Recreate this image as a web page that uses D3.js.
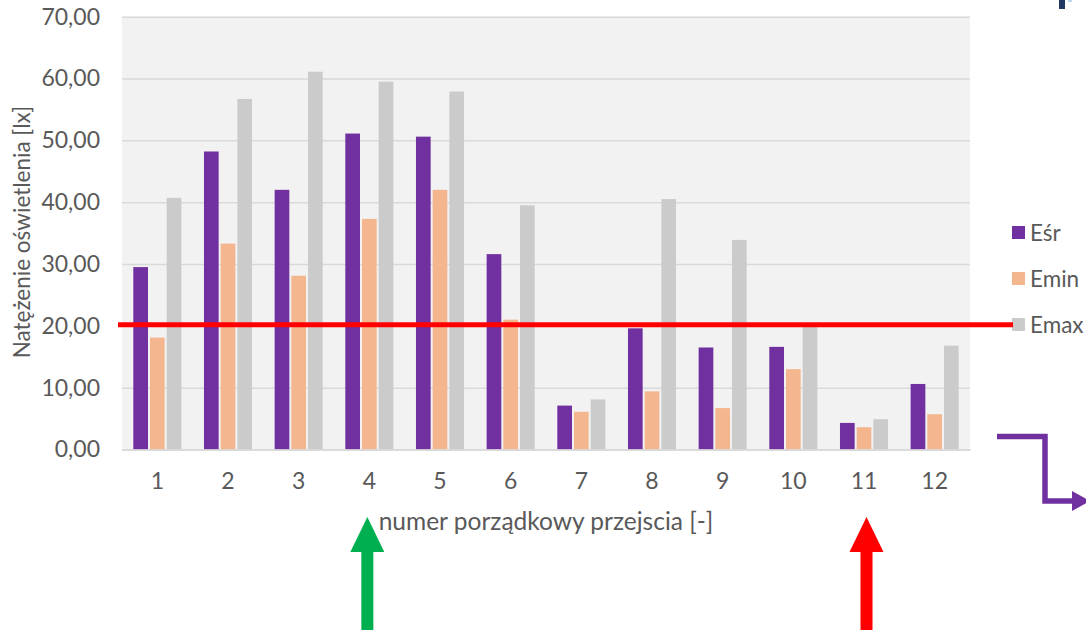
<!DOCTYPE html>
<html>
<head>
<meta charset="utf-8">
<script src="https://cdn.jsdelivr.net/npm/d3@7"></script>
<style>
  html, body { margin: 0; padding: 0; background: #ffffff; }
  svg { display: block; font-family: Lato, "Open Sans", sans-serif; }
</style>
</head>
<body>
<svg id="chart" width="1086" height="630"></svg>
<script>
// Illuminance per passage (lx)
const categories = ["1", "2", "3", "4", "5", "6", "7", "8", "9", "10", "11", "12"];
const seriesNames = ["Eśr", "Emin", "Emax"];
const eSr  = [29.5, 48.2, 42.0, 51.1, 50.6, 31.6, 7.1, 19.6, 16.5, 16.6, 4.3, 10.6];
const eMin = [18.1, 33.3, 28.1, 37.3, 42.0, 21.0, 6.1, 9.4, 6.7, 13.0, 3.6, 5.7];
const eMax = [40.7, 56.7, 61.1, 59.5, 57.9, 39.5, 8.1, 40.5, 33.9, 20.0, 4.9, 16.8];
const yTicks = [0, 10, 20, 30, 40, 50, 60, 70];
const normLevel = 20;

const seriesValues = [eSr, eMin, eMax];
const colors = ["#7030a0", "#f4b68f", "#cbcbcb"];
const textColor = "#595959";

const svg = d3.select("#chart");
const plot = { left: 122, right: 970, top: 16.7, bottom: 449.5 };

const x = d3.scaleBand()
  .domain(categories)
  .range([plot.left, plot.right])
  .paddingInner(0.32)
  .paddingOuter(0.16);

const xs = d3.scaleBand()
  .domain(seriesNames)
  .range([0, x.bandwidth()])
  .paddingInner(0.12);

const y = d3.scaleLinear()
  .domain([0, 70])
  .range([plot.bottom, plot.top]);

const fmt = v => d3.format(".2f")(v).replace(".", ",");

// plot background
svg.append("rect")
  .attr("x", plot.left).attr("y", plot.top)
  .attr("width", plot.right - plot.left)
  .attr("height", plot.bottom - plot.top)
  .attr("fill", "#f2f2f2");

// value axis with horizontal gridlines
const yAxis = d3.axisLeft(y)
  .tickValues(yTicks)
  .tickSize(-(plot.right - plot.left))
  .tickPadding(22)
  .tickFormat(fmt);

const gy = svg.append("g")
  .attr("transform", `translate(${plot.left},0)`)
  .call(yAxis);
gy.select(".domain").remove();
gy.selectAll(".tick line").attr("stroke", "#d9d9d9").attr("stroke-width", 1.5);
gy.selectAll(".tick text")
  .attr("fill", textColor)
  .attr("font-size", 23)
  .attr("font-family", "Lato, sans-serif");

// bars
const groups = svg.append("g").selectAll("g")
  .data(categories)
  .join("g")
  .attr("transform", d => `translate(${x(d)},0)`);

groups.selectAll("rect")
  .data((d, i) => seriesNames.map((s, k) => ({ s, v: seriesValues[k][i], k })))
  .join("rect")
  .attr("x", d => xs(d.s))
  .attr("width", xs.bandwidth())
  .attr("y", d => y(d.v))
  .attr("height", d => y(0) - y(d.v))
  .attr("fill", d => colors[d.k]);

// category axis
const xAxis = d3.axisBottom(x).tickSize(0).tickPadding(23);
const gx = svg.append("g")
  .attr("transform", `translate(0,${plot.bottom})`)
  .call(xAxis);
gx.select(".domain").attr("stroke", "#d9d9d9").attr("stroke-width", 1.5);
gx.selectAll(".tick text")
  .attr("fill", textColor)
  .attr("font-size", 23)
  .attr("font-family", "Lato, sans-serif");

// axis titles
svg.append("text")
  .attr("x", 546).attr("y", 530)
  .attr("text-anchor", "middle")
  .attr("fill", textColor)
  .attr("font-size", 24.5)
  .text("numer porządkowy przejscia [-]");

svg.append("text")
  .attr("transform", `translate(30,${(plot.top + plot.bottom) / 2 - 1}) rotate(-90)`)
  .attr("text-anchor", "middle")
  .attr("fill", textColor)
  .attr("font-size", 22.5)
  .text("Natężenie oświetlenia [lx]");

// legend
const legend = svg.append("g")
  .attr("transform", "translate(1012,233)");
const li = legend.selectAll("g")
  .data(seriesNames)
  .join("g")
  .attr("transform", (d, i) => `translate(0,${i * 46})`);
li.append("rect")
  .attr("x", 0).attr("y", -7)
  .attr("width", 13).attr("height", 13)
  .attr("fill", (d, i) => colors[i]);
li.append("text")
  .attr("x", 18).attr("y", 0)
  .attr("dy", "0.35em")
  .attr("fill", textColor)
  .attr("font-size", 22.5)
  .text(d => d);

// required illuminance level
svg.append("line")
  .attr("x1", 118).attr("x2", 1013)
  .attr("y1", y(normLevel) - 1).attr("y2", y(normLevel) - 1)
  .attr("stroke", "#ff0000")
  .attr("stroke-width", 5);

// upward arrows under passages 4 and 11
function upArrow(cx, color) {
  const tip = 517, headBase = 552, bottom = 640, half = 17, shaft = 6;
  svg.append("path")
    .attr("d", `M${cx},${tip} L${cx + half},${headBase} L${cx + shaft},${headBase} L${cx + shaft},${bottom}
                L${cx - shaft},${bottom} L${cx - shaft},${headBase} L${cx - half},${headBase} Z`)
    .attr("fill", color);
}
upArrow(x("4") + x.bandwidth() / 2 - 2, "#00b050");
upArrow(x("11") + x.bandwidth() / 2 + 2.5, "#ff0000");

// bent connector arrow on the right
svg.append("path")
  .attr("d", "M997,436.5 L1045,436.5 L1045,501 L1074,501")
  .attr("fill", "none")
  .attr("stroke", "#7030a0")
  .attr("stroke-width", 5.5);
svg.append("path")
  .attr("d", "M1072,491 L1090,501 L1072,511 Z")
  .attr("fill", "#7030a0");

// corner mark at top right
svg.append("rect")
  .attr("x", 1059).attr("y", 0).attr("width", 6).attr("height", 9)
  .attr("fill", "#1f3864");
svg.append("rect")
  .attr("x", 1068).attr("y", 0).attr("width", 4).attr("height", 2)
  .attr("fill", "#bdd7ee");
</script>
</body>
</html>
